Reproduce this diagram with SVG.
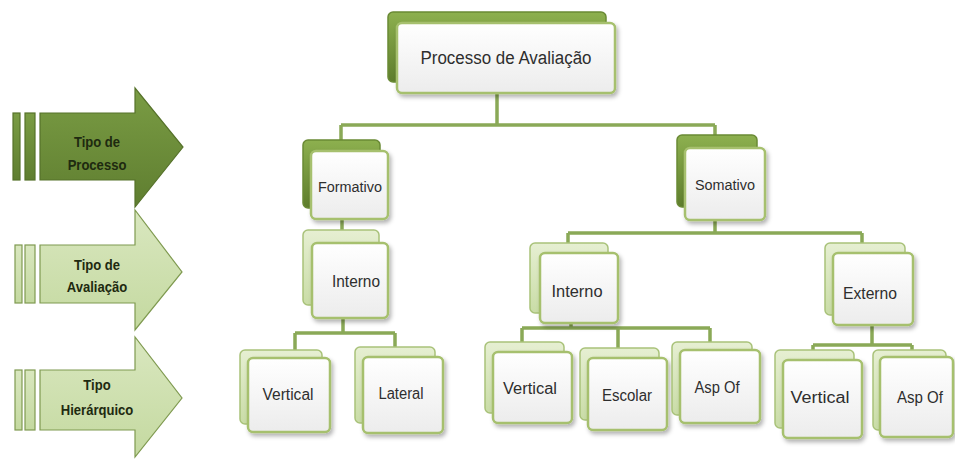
<svg xmlns="http://www.w3.org/2000/svg" width="955" height="461" viewBox="0 0 955 461">
<defs>
<linearGradient id="gDark" x1="0" y1="0" x2="0" y2="1"><stop offset="0" stop-color="#8db04f"/><stop offset="1" stop-color="#5e7d2c"/></linearGradient>
<linearGradient id="gLight" x1="0" y1="0" x2="0" y2="1"><stop offset="0" stop-color="#e6efd2"/><stop offset="1" stop-color="#c9dca6"/></linearGradient>
<linearGradient id="gFront" x1="0" y1="0" x2="0" y2="1"><stop offset="0" stop-color="#ffffff"/><stop offset="1" stop-color="#ececec"/></linearGradient>
<linearGradient id="gArrDark" x1="0" y1="0" x2="0" y2="1"><stop offset="0" stop-color="#7a9c44"/><stop offset="1" stop-color="#5f7e30"/></linearGradient>
<linearGradient id="gArrLight" x1="0" y1="0" x2="0" y2="1"><stop offset="0" stop-color="#d9e7bf"/><stop offset="1" stop-color="#c4d9a0"/></linearGradient>
<filter id="sh" x="-20%" y="-20%" width="150%" height="150%"><feDropShadow dx="2" dy="3" stdDeviation="2" flood-color="#000" flood-opacity="0.3"/></filter>
</defs>
<style>
.bd{fill:url(#gDark);stroke:#6a8a35;stroke-width:1.5}
.bl{fill:url(#gLight);stroke:#a9c27a;stroke-width:1.5}
.fr{fill:url(#gFront);stroke:#a6c06e;stroke-width:2.5;filter:url(#sh)}
.t{font-family:"Liberation Sans",Arial,sans-serif;fill:#2e2e2e;text-anchor:middle;dominant-baseline:central}
.at{font-family:"Liberation Sans",Arial,sans-serif;font-weight:bold;font-size:15px;fill:#1e2a10;text-anchor:middle}
.c{fill:none;stroke:#8aa957;stroke-width:3.5}
.ad{fill:url(#gArrDark);stroke:#56722a;stroke-width:1.2}
.al{fill:url(#gArrLight);stroke:#7f9a50;stroke-width:1.2}
</style>
<rect width="955" height="461" fill="#ffffff"/>

<g id="arrow-processo">
<rect class="ad" x="13" y="113" width="7" height="67"/>
<rect class="ad" x="25" y="113" width="10" height="67"/>
<polygon class="ad" points="40,113 135,113 135,88 183,147 135,207 135,180 40,180"/>
<text class="at" x="97" y="147" transform="translate(97 0) scale(0.87 1) translate(-97 0)">Tipo de</text>
<text class="at" x="97" y="170" transform="translate(97 0) scale(0.87 1) translate(-97 0)">Processo</text>
</g>
<g id="arrow-avaliacao">
<rect class="al" x="15" y="245" width="7" height="58"/>
<rect class="al" x="25" y="245" width="10" height="58"/>
<polygon class="al" points="40,245 135,245 135,210 182,272 135,330 135,303 40,303"/>
<text class="at" x="97" y="270" transform="translate(97 0) scale(0.87 1) translate(-97 0)">Tipo de</text>
<text class="at" x="97" y="292" transform="translate(97 0) scale(0.87 1) translate(-97 0)">Avaliação</text>
</g>
<g id="arrow-hierarquico">
<rect class="al" x="15" y="370" width="7" height="60"/>
<rect class="al" x="25" y="370" width="10" height="60"/>
<polygon class="al" points="40,370 135,370 135,337 182,398 135,457 135,430 40,430"/>
<text class="at" x="97" y="390" transform="translate(97 0) scale(0.87 1) translate(-97 0)">Tipo</text>
<text class="at" x="97" y="415" transform="translate(97 0) scale(0.87 1) translate(-97 0)">Hierárquico</text>
</g>

<g id="connectors">
<path class="c" d="M497 93V125M341 125H715M341 125V140M715 125V135"/>
<path class="c" d="M342 219V230" stroke-width="2"/>
<path class="c" d="M715 220V233M568 233H862M568 233V243M862 233V243"/>
<path class="c" d="M343 318V333M295 333H395M295 333V352M395 333V347"/>
<path class="c" d="M571 323V328M522 328H710M522 328V342M618 328V348M710 328V342"/>
<path class="c" d="M872 325V345M813 345H912M813 345V350M912 345V350"/>
</g>

<g id="n-root">
<rect class="bd" x="388" y="12" width="218" height="70" rx="5"/>
<rect class="fr" x="397" y="23" width="218" height="70" rx="5"/>
<text class="t" x="506" y="58" font-size="18" textLength="171" lengthAdjust="spacingAndGlyphs">Processo de Avaliação</text>
</g>
<g id="n-formativo">
<rect class="bd" x="303" y="140" width="77" height="68" rx="5"/>
<rect class="fr" x="311" y="151" width="77" height="68" rx="5"/>
<text class="t" x="350" y="187" font-size="14" textLength="64" lengthAdjust="spacingAndGlyphs">Formativo</text>
</g>
<g id="n-somativo">
<rect class="bd" x="677" y="135" width="80" height="72" rx="5"/>
<rect class="fr" x="685" y="148" width="80" height="72" rx="5"/>
<text class="t" x="725" y="185" font-size="14" textLength="60" lengthAdjust="spacingAndGlyphs">Somativo</text>
</g>
<g id="n-form-interno">
<rect class="bl" x="303" y="230" width="76" height="75" rx="5"/>
<rect class="fr" x="312" y="243" width="76" height="75" rx="5"/>
<text class="t" x="356" y="281" font-size="16" textLength="48" lengthAdjust="spacingAndGlyphs">Interno</text>
</g>
<g id="n-soma-interno">
<rect class="bl" x="530" y="243" width="78" height="70" rx="5"/>
<rect class="fr" x="540" y="253" width="78" height="70" rx="5"/>
<text class="t" x="577" y="291" font-size="16" textLength="51" lengthAdjust="spacingAndGlyphs">Interno</text>
</g>
<g id="n-externo">
<rect class="bl" x="825" y="243" width="80" height="72" rx="5"/>
<rect class="fr" x="833" y="253" width="80" height="72" rx="5"/>
<text class="t" x="870" y="293" font-size="16" textLength="54" lengthAdjust="spacingAndGlyphs">Externo</text>
</g>
<g id="n-form-vertical">
<rect class="bl" x="240" y="350" width="82" height="74" rx="5"/>
<rect class="fr" x="248" y="358" width="82" height="74" rx="5"/>
<text class="t" x="288" y="394" font-size="16" textLength="51" lengthAdjust="spacingAndGlyphs">Vertical</text>
</g>
<g id="n-lateral">
<rect class="bl" x="355" y="347" width="80" height="76" rx="5"/>
<rect class="fr" x="363" y="357" width="80" height="76" rx="5"/>
<text class="t" x="401" y="393" font-size="16" textLength="45" lengthAdjust="spacingAndGlyphs">Lateral</text>
</g>
<g id="n-soma-vertical">
<rect class="bl" x="485" y="342" width="79" height="71" rx="5"/>
<rect class="fr" x="493" y="352" width="79" height="71" rx="5"/>
<text class="t" x="530" y="388" font-size="16" textLength="54" lengthAdjust="spacingAndGlyphs">Vertical</text>
</g>
<g id="n-escolar">
<rect class="bl" x="580" y="348" width="79" height="72" rx="5"/>
<rect class="fr" x="588" y="358" width="79" height="72" rx="5"/>
<text class="t" x="627" y="395" font-size="16" textLength="50" lengthAdjust="spacingAndGlyphs">Escolar</text>
</g>
<g id="n-soma-aspof">
<rect class="bl" x="672" y="342" width="80" height="73" rx="5"/>
<rect class="fr" x="680" y="350" width="80" height="73" rx="5"/>
<text class="t" x="717" y="387" font-size="16" textLength="45" lengthAdjust="spacingAndGlyphs">Asp Of</text>
</g>
<g id="n-ext-vertical">
<rect class="bl" x="775" y="350" width="79" height="78" rx="5"/>
<rect class="fr" x="783" y="360" width="79" height="78" rx="5"/>
<text class="t" x="820" y="397" font-size="16" textLength="59" lengthAdjust="spacingAndGlyphs">Vertical</text>
</g>
<g id="n-ext-aspof">
<rect class="bl" x="873" y="350" width="73" height="80" rx="5"/>
<rect class="fr" x="880" y="357" width="73" height="80" rx="5"/>
<text class="t" x="920" y="397" font-size="16" textLength="46" lengthAdjust="spacingAndGlyphs">Asp Of</text>
</g>
</svg>
